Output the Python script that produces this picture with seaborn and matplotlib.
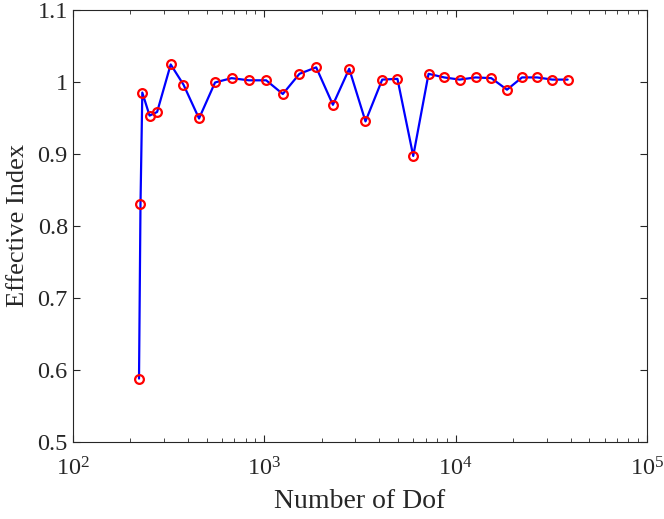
import numpy as np
import pandas as pd
import seaborn as sns
import matplotlib
matplotlib.use("Agg")
import matplotlib.pyplot as plt
from matplotlib.ticker import LogFormatterMathtext, FuncFormatter, LogLocator, FixedLocator

dof = [222, 226, 231, 252, 276, 325, 379, 457, 554, 676, 832, 1025, 1252,
       1529, 1870, 2287, 2782, 3384, 4139, 4970, 6010, 7225, 8728, 10494,
       12720, 15370, 18566, 22240, 26650, 32030, 38500]
eff_index = [0.588, 0.830, 0.985, 0.953, 0.958, 1.024, 0.996, 0.949, 0.999,
             1.005, 1.002, 1.002, 0.983, 1.011, 1.020, 0.968, 1.018, 0.945,
             1.003, 1.004, 0.897, 1.011, 1.006, 1.003, 1.006, 1.005, 0.989,
             1.006, 1.006, 1.003, 1.003]
y_ticks = [0.5, 0.6, 0.7, 0.8, 0.9, 1.0, 1.1]

sns.set_style("ticks")
plt.rcParams["font.family"] = ["Liberation Serif", "DejaVu Serif"]
plt.rcParams["mathtext.fontset"] = "custom"
plt.rcParams["mathtext.rm"] = "Liberation Serif"
plt.rcParams["mathtext.it"] = "Liberation Serif:italic"
plt.rcParams["mathtext.bf"] = "Liberation Serif:bold"

df = pd.DataFrame({"Number of Dof": dof, "Effective Index": eff_index})

fig = plt.figure(figsize=(6.64, 5.19), dpi=100)
ax = fig.add_axes([0.1095, 0.1484, 0.9744 - 0.1095, 0.9813 - 0.1484])

sns.lineplot(data=df, x="Number of Dof", y="Effective Index", ax=ax,
             color="#0000ff", linewidth=1.6, marker="o", markersize=6.3,
             markerfacecolor="none", markeredgecolor="#ff0000",
             markeredgewidth=1.6, sort=False)

ax.set_xscale("log")
ax.set_xlim(1e2, 1e5)
ax.set_ylim(0.5, 1.1)
ax.xaxis.set_major_locator(LogLocator(base=10, numticks=10))
ax.xaxis.set_minor_locator(LogLocator(base=10, subs=np.arange(2, 10), numticks=20))
ax.xaxis.set_major_formatter(LogFormatterMathtext())
ax.yaxis.set_major_locator(FixedLocator(y_ticks))
ax.yaxis.set_major_formatter(FuncFormatter(lambda v, p: f"{v:g}"))

ax.set_xlabel("Number of Dof", fontsize=20, color="#262626", labelpad=6)
ax.set_ylabel("Effective Index", fontsize=19, color="#262626", labelpad=6)

for s in ax.spines.values():
    s.set_visible(True)
    s.set_color("#262626")
    s.set_linewidth(0.8)

ax.tick_params(axis="both", which="both", direction="in", top=True, right=True,
               colors="#262626", labelsize=17.5)
ax.tick_params(axis="both", which="major", length=5, width=0.8)
ax.tick_params(axis="both", which="minor", length=3, width=0.6)
ax.tick_params(axis="x", which="major", pad=11)

fig.savefig("out.png", dpi=100)
